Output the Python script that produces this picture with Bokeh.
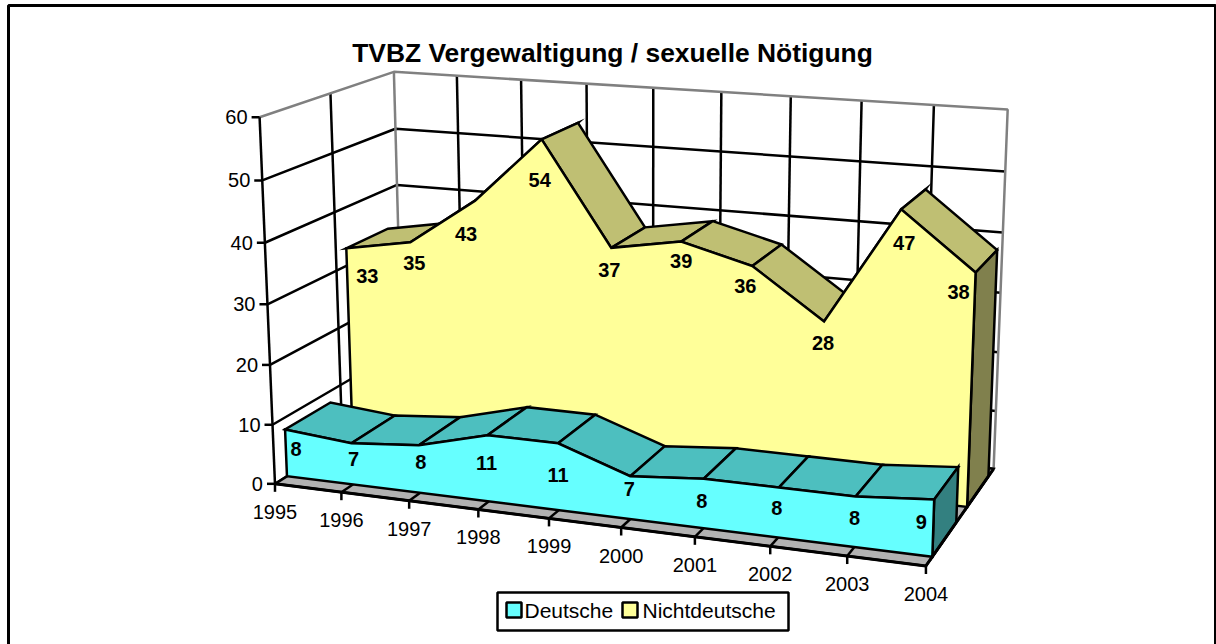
import numpy as np
from bokeh.plotting import figure
from bokeh.models import Range1d
from bokeh.core.properties import value
from bokeh.embed import file_html
from bokeh.resources import INLINE

# ---- data ----
years = ["1995", "1996", "1997", "1998", "1999", "2000", "2001", "2002", "2003", "2004"]
deutsche = [8, 7, 8, 11, 11, 7, 8, 8, 8, 9]
nichtdeutsche = [33, 35, 43, 54, 37, 39, 36, 28, 47, 38]
value_ticks = [0, 10, 20, 30, 40, 50, 60]
title_text = "TVBZ Vergewaltigung / sexuelle Nötigung"
series_names = ["Deutsche", "Nichtdeutsche"]

# ---- label nudges relative to the projected point (px) ----
lab_off_d = [(11, 20), (2, 16), (2, 17), (-1, 28), (0, 32), (-1, 13), (-2, 22), (-2, 20), (-1, 21), (-13, 23)]
lab_off_n = [(21, 28), (4, 21), (-9, 33), (-2, 41), (-2, 22), (0, 19), (-7, 20), (-1, 21), (3, 34), (-17, 19)]

# ---- camera: fitted from where the box corners sit on the canvas ----
calib = [
    ((0, 0, 0), (274, 483)), ((0, 60, 0), (260, 118)), ((0, 60, 1), (393, 70)),
    ((0, 0, 1), (405, 405)), ((9, 60, 1), (1008, 109)), ((9, 0, 1), (992, 467)),
    ((9, 0, 0), (928, 562)), ((4, 60, 1), (652, 88)), ((8, 60, 1), (933, 105)),
    ((4, 0, 0), (547, 519)), ((7, 0, 0), (769, 547)),
    ((0, 10, 0), (273, 423)), ((0, 20, 0), (270, 364)), ((0, 30, 0), (267, 304)),
    ((0, 33, 0.58), (346, 247)), ((9, 38, 0.58), (975, 272)),
    ((0, 33, 0.915), (387, 227)), ((9, 38, 0.915), (997, 250)),
    ((0, 8, 0.085), (284, 429)), ((9, 9, 0.085), (933, 501)),
    ((0, 8, 0.42), (328, 402)), ((9, 9, 0.42), (958, 467)),
]
A, b = [], []
for (u, v, w), (x, y) in calib:
    A.append([u, v, w, 1, 0, 0, 0, 0, -x * u, -x * v, -x * w]); b.append(x)
    A.append([0, 0, 0, 0, u, v, w, 1, -y * u, -y * v, -y * w]); b.append(y)
P = np.append(np.linalg.lstsq(np.array(A, float), np.array(b, float), rcond=None)[0], 1).reshape(3, 4)


def pr(u, v, w):
    q = P @ np.array([u, v, w, 1.0])
    return q[0] / q[2], q[1] / q[2]


def poly(pts):
    xy = [pr(*t) for t in pts]
    return [a for a, _ in xy], [c for _, c in xy]


D_W = (0.085, 0.42)
N_W = (0.58, 0.915)
FLOOR = "#B2B2B2"; WALLEDGE = "#808080"
D_FRONT, D_TOP, D_SIDE = "#66FFFF", "#4DBFBF", "#338080"
N_FRONT, N_TOP, N_SIDE = "#FFFF99", "#BFBF73", "#80804D"
LW = 2.5
FONT = value("Liberation Sans")
W, H = 1216, 644

p = figure(width=W, height=H, x_range=Range1d(0, W), y_range=Range1d(H, 0),
           output_backend="svg", toolbar_location=None, min_border=0,
           outline_line_color=None)
p.axis.visible = False
p.grid.visible = False


def pa(pts, fill):
    xs, ys = poly(pts)
    p.patch(xs, ys, fill_color=fill, line_color="black", line_width=LW, line_join="miter")


def ln(pts, color="black", width=LW):
    xs, ys = poly(pts)
    p.line(xs, ys, line_color=color, line_width=width)


# chart frame
p.quad(left=[8], right=[1215], top=[5], bottom=[660], fill_color="white", line_color="black", line_width=3)

# walls: grid
n = len(years)
top = value_ticks[-1]
for t in value_ticks[1:-1]:
    ln([(0, t, 0), (0, t, 1), (n - 1, t, 1)])
ln([(0, 0, 0), (0, 0, 1), (n - 1, 0, 1)])
for u in range(1, n - 1):
    ln([(u, 0, 1), (u, top, 1)])
ln([(0, 0, 0.5), (0, top, 0.5)])
ln([(0, top, 0), (0, top, 1), (n - 1, top, 1), (n - 1, 0, 1)], WALLEDGE)
ln([(0, top, 1), (0, 0, 1)], WALLEDGE)

# floor
pa([(0, 0, 0), (n - 1, 0, 0), (n - 1, 0, 1), (0, 0, 1)], FLOOR)
for u in range(1, n - 1):
    ln([(u, 0, 0), (u, 0, 1)])

# left axis and ticks
ln([(0, 0, 0), (0, top, 0)])
for t in value_ticks:
    x, y = pr(0, t, 0)
    p.line([x - 8, x], [y, y], line_color="black", line_width=LW)
    p.text([x - 12], [y], text=[str(t)], text_font=FONT, text_font_size="20px",
           text_align="right", text_baseline="middle", text_color="black")

# category ticks
for u, lab in enumerate(years):
    x, y = pr(u, 0, 0)
    p.line([x, x], [y, y + 8], line_color="black", line_width=LW)
    p.text([x], [y + 28], text=[lab], text_font=FONT, text_font_size="20px",
           text_align="center", text_baseline="middle", text_color="black")


def area(vals, wr, front, topc, side):
    wf, wb = wr
    last = len(vals) - 1
    for u in range(last):
        pa([(u, vals[u], wf), (u + 1, vals[u + 1], wf), (u + 1, vals[u + 1], wb), (u, vals[u], wb)], topc)
    pa([(last, 0, wf), (last, vals[last], wf), (last, vals[last], wb), (last, 0, wb)], side)
    pts = [(0, 0, wf)] + [(u, vals[u], wf) for u in range(last + 1)] + [(last, 0, wf)]
    pa(pts, front)


area(nichtdeutsche, N_W, N_FRONT, N_TOP, N_SIDE)
area(deutsche, D_W, D_FRONT, D_TOP, D_SIDE)
# front floor edges on top
ln([(0, 0, 0), (n - 1, 0, 0), (n - 1, 0, 1)], "black", 3)


def labels(vals, wf, offs):
    for u, val in enumerate(vals):
        x, y = pr(u, val, wf)
        p.text([x + offs[u][0]], [y + offs[u][1]], text=[str(val)], text_font=FONT, text_font_size="20px",
               text_font_style="bold", text_align="center", text_baseline="middle", text_color="black")


labels(nichtdeutsche, N_W[0], lab_off_n)
labels(deutsche, D_W[0], lab_off_d)

# title
p.text([612], [52], text=[title_text], text_font=FONT, text_font_size="26.4px", text_font_style="bold",
       text_align="center", text_baseline="middle", text_color="black")

# legend
p.quad(left=[497], right=[788], top=[592], bottom=[630], fill_color="white", line_color="black", line_width=LW)
for sx, tx, col, name in [(506, 524, D_FRONT, series_names[0]), (622, 642, N_FRONT, series_names[1])]:
    p.quad(left=[sx], right=[sx + 15], top=[602], bottom=[617], fill_color=col, line_color="black", line_width=LW)
    p.text([tx], [610], text=[name], text_font=FONT, text_font_size="21px",
           text_align="left", text_baseline="middle", text_color="black")

open("out.html", "w").write(file_html(p, INLINE))
